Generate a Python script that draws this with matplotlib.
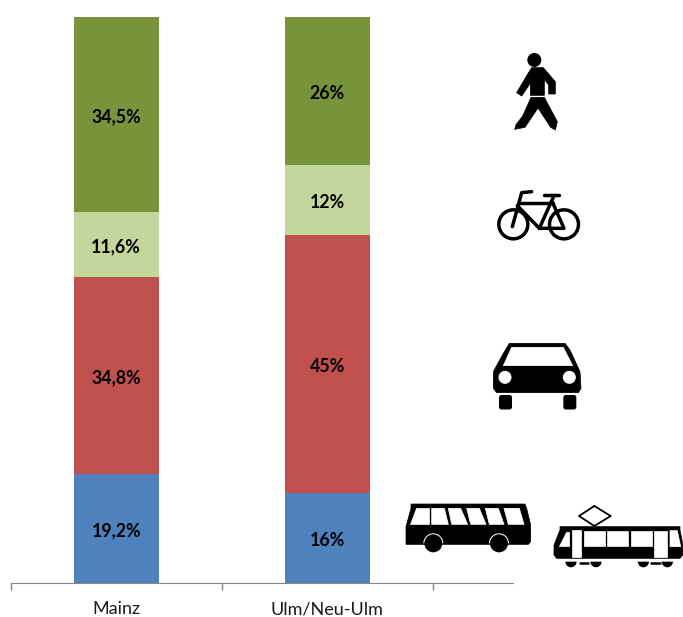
import matplotlib
matplotlib.use("Agg")
import matplotlib.pyplot as plt
from matplotlib.patches import Circle, FancyBboxPatch, Polygon, Wedge

# ── Datos ──────────────────────────────────────────────
cities = ["Mainz", "Ulm/Neu-Ulm"]
bus = [19.2, 15.9]
car = [34.8, 45.6]
bike = [11.6, 12.4]
walk = [34.5, 26.1]
bus_lbl = ["19,2%", "16%"]
car_lbl = ["34,8%", "45%"]
bike_lbl = ["11,6%", "12%"]
walk_lbl = ["34,5%", "26%"]

W, H = 683, 617
plt.rcParams["font.family"] = ["Lato", "DejaVu Sans"]
fig = plt.figure(figsize=(W / 100, H / 100), dpi=100, facecolor="white")

# ── Barras ─────────────────────────────────────────────
ax = fig.add_axes([10.5 / W, 1 - 583 / H, 502.5 / W, 566 / H])
ax.set_xlim(-0.5, 1.879)
ax.set_ylim(0, 100)

series = [(bus, bus_lbl, "#4F81BD"), (car, car_lbl, "#C0504D"),
          (bike, bike_lbl, "#C3D69B"), (walk, walk_lbl, "#77933C")]
base = [0, 0]
for vals, lbls, clr in series:
    bars = ax.bar([0, 1], vals, 0.403, bottom=base, color=clr, lw=0)
    for t in ax.bar_label(bars, labels=lbls, label_type="center", fontsize=12.8,
                          fontweight="bold", color="black"):
        t.xyann = (0, -1.6)
    base = [b + v for b, v in zip(base, vals)]

for s in ["top", "left", "right"]:
    ax.spines[s].set_visible(False)
ax.spines["bottom"].set_color("#868686")
ax.set_yticks([])
ax.set_xticks([-0.5, 0.5, 1.5], labels=[])
ax.tick_params(axis="x", which="major", length=5, color="#868686", width=1)
ax.set_xticks([0, 1], labels=cities, minor=True)
ax.tick_params(axis="x", which="minor", length=0, pad=13, labelsize=13, labelcolor="#1A1A1A")

# ── Iconos (capa en pixeles) ───────────────────────────
ic = fig.add_axes([0, 0, 1, 1], zorder=5)
ic.set_xlim(0, W); ic.set_ylim(H, 0); ic.axis("off"); ic.patch.set_alpha(0)


def mapper(x0, y0):
    return lambda pts: [(x0 + a / 3, y0 + b / 3) for a, b in pts]


def poly(pts, clr="black", **kw):
    ic.add_patch(Polygon(pts, closed=True, fc=clr, ec=clr, lw=0.5, joinstyle="round", **kw))


def stroke(pts, lw=2.5):
    ic.plot(*zip(*pts), color="black", lw=lw, solid_capstyle="round", solid_joinstyle="round")


# Peaton
m = mapper(480, 40)
cx, cy = m([(163, 60)])[0]
ic.add_patch(Circle((cx, cy), 7, fc="black", ec="none"))
poly(m([(155, 83), (190, 83), (226, 125), (226, 162), (206, 162), (206, 135), (193, 118),
        (193, 166), (151, 166), (151, 130), (125, 168), (110, 158), (143, 102)]))
poly(m([(153, 172), (193, 172), (232, 245), (226, 270), (212, 262), (174, 204),
        (135, 262), (104, 268), (108, 254), (128, 228)]))

# Bicicleta
for c in [(100, 553), (252, 553)]:
    cx, cy = m([c])[0]
    ic.add_patch(Circle((cx, cy), 14.5, fc="none", ec="black", lw=2.5))
for seg in [[(97, 560), (125, 458), (155, 455)], [(118, 488), (218, 488)],
            [(112, 497), (178, 565), (252, 565), (218, 488)],
            [(178, 565), (222, 467)], [(192, 465), (238, 465)]]:
    stroke(m(seg))

# Coche
m = mapper(480, 330)
poly(m([(88, 40), (255, 40), (270, 60), (300, 125), (303, 175), (295, 188), (50, 188),
        (40, 175), (40, 125), (70, 70)]))
poly(m([(95, 52), (250, 52), (278, 107), (70, 107)]), "white")
for c in [(75, 142), (268, 142)]:
    cx, cy = m([c])[0]
    ic.add_patch(Circle((cx, cy), 6.5, fc="white", ec="none"))
for a in [57, 250]:
    x, y = m([(a, 195)])[0]
    ic.add_patch(FancyBboxPatch((x + 2.5, y + 2.5), 8, 9.5, boxstyle="round,pad=2.5", fc="black", ec="none"))

# Autobus
m = mapper(400, 480)
poly(m([(33, 72), (375, 72), (380, 85), (392, 135), (392, 185), (385, 193), (18, 193),
        (18, 140), (33, 85)]))
for win in [[(47, 85), (87, 85), (87, 133), (30, 133)], [(95, 85), (133, 85), (145, 133), (95, 133)],
            [(145, 85), (182, 85), (203, 133), (155, 133)], [(200, 85), (238, 85), (258, 133), (212, 133)],
            [(256, 85), (295, 85), (312, 133), (268, 133)], [(312, 85), (358, 85), (372, 133), (325, 133)]]:
    poly(m(win), "white")
for c in [(100, 190), (297, 190)]:
    cx, cy = m([c])[0]
    ic.add_patch(Wedge((cx, cy), 10, 180, 360, fc="white", ec="none"))
    ic.add_patch(Circle((cx, cy), 9, fc="black", ec="none"))

# Tranvia
poly(m([(480, 140), (840, 140), (840, 150), (848, 190), (848, 225), (840, 235), (470, 235),
        (462, 225), (462, 195), (480, 150)]))
for win in [[(498, 155), (508, 155), (508, 198), (478, 198)], [(515, 150), (543, 150), (543, 232), (515, 232)],
            [(552, 152), (615, 152), (615, 198), (552, 198)], [(622, 152), (685, 152), (685, 198), (622, 198)],
            [(692, 152), (755, 152), (755, 198), (692, 198)], [(762, 152), (802, 152), (802, 232), (762, 232)],
            [(810, 152), (832, 152), (842, 200), (810, 200)]]:
    poly(m(win), "white")
stroke(m([(583, 78), (632, 108), (583, 138), (537, 108), (583, 78)]), lw=1.3)
for a in [513, 588, 730, 802]:
    cx, cy = m([(a, 245)])[0]
    ic.add_patch(Wedge((cx, cy), 5.6, 0, 180, fc="black", ec="none"))
for seg in [[(540, 250), (565, 250)], [(752, 250), (780, 250)]]:
    stroke(m(seg), lw=1.8)

fig.savefig("out.png", dpi=100)
